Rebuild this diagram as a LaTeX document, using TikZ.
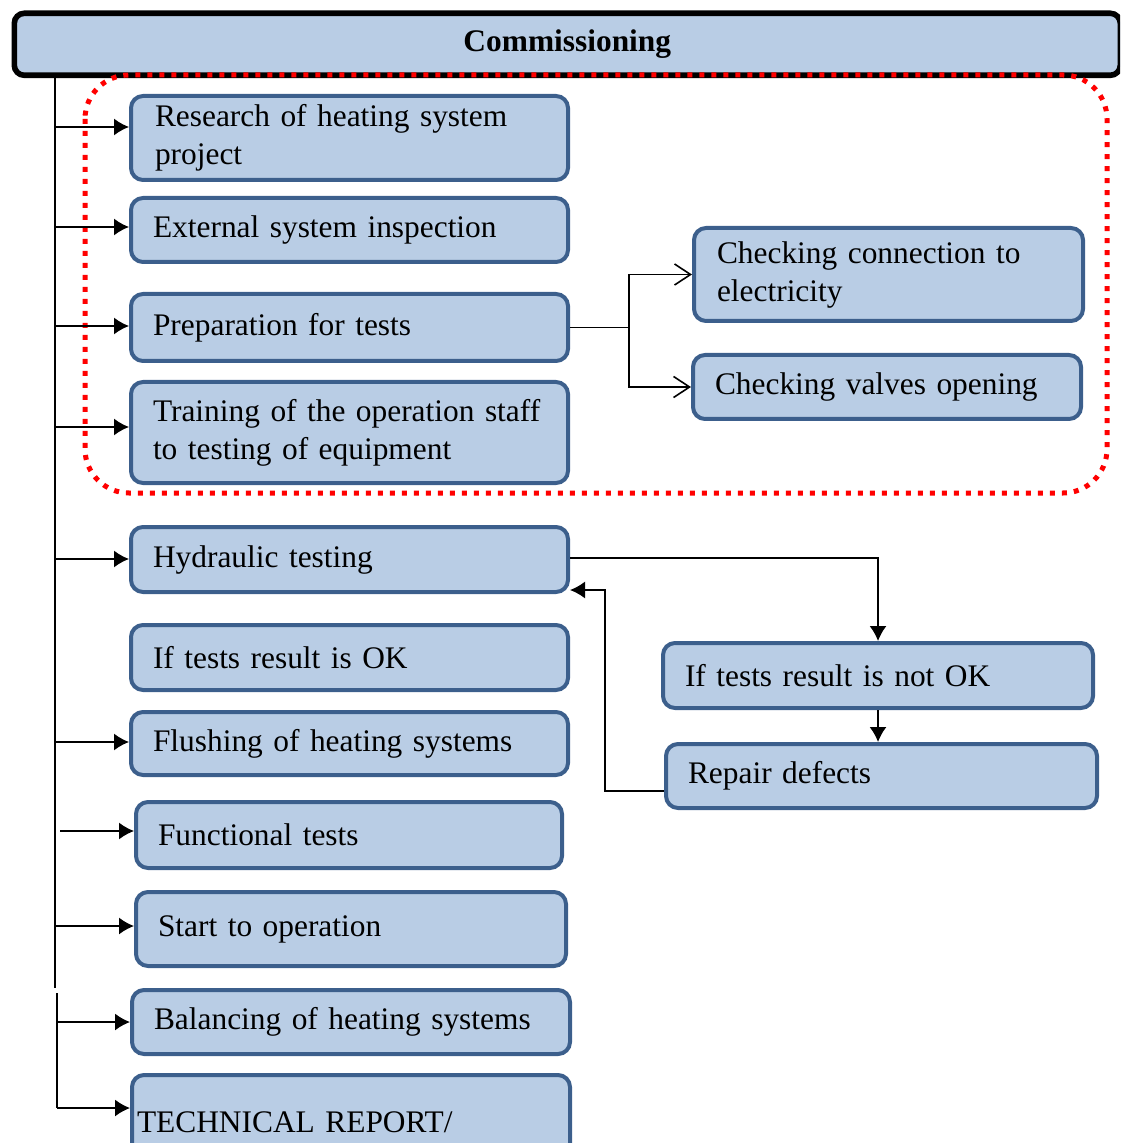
\documentclass[tikz,border=0pt]{standalone}
\usepackage{fontspec}
\setmainfont{Liberation Serif}
\usetikzlibrary{arrows.meta}
\definecolor{boxfill}{HTML}{B9CDE5}
\definecolor{boxline}{HTML}{3C5F8C}

\begin{document}
\begin{tikzpicture}[x=0.5pt,y=-0.5pt,
  box/.style={draw=boxline, fill=boxfill, line width=2pt, rounded corners=6pt, anchor=north west,
    align=left, inner xsep=11pt, inner ysep=0pt, text width=196.5pt, font=\fontsize{15.7}{19}\selectfont},
  arr/.style={-{Latex[length=7.5pt,width=8.5pt]}, line width=0.8pt},
  barb/.style={-{Straight Barb[length=8pt,width=10.5pt]}, line width=0.8pt}]
  \useasboundingbox (0,0) rectangle (1120,1143);
  \clip (0,0) rectangle (1120,1143);

  \node[draw=black, fill=boxfill, line width=2.8pt, rounded corners=5pt, anchor=north west,
    minimum width=553pt, minimum height=31pt, inner sep=0pt,
    font=\fontsize{15.7}{19}\selectfont\bfseries] (comm) at (11.5,10.5) {Commissioning};
  \draw[red, line width=2.5pt, dash pattern=on 2.5pt off 3.5pt, rounded corners=22pt] (85,75) rectangle (1107,493);

  \node[box, minimum height=42pt, inner xsep=12pt, text width=194.5pt] (research) at (129,94) {Research of heating system\\project};
  \node[box, minimum height=32pt] (external) at (129,196) {External system inspection};
  \node[box, minimum height=33.5pt] (prep) at (129,292) {Preparation for tests};
  \node[box, minimum height=50.5pt] (training) at (129,380) {Training of the operation staff\\to testing of equipment};
  \node[box, minimum height=32.5pt] (hydraulic) at (129,525) {Hydraulic testing};
  \node[box, minimum height=32.5pt] (ok) at (129,623) {If tests result is OK};
  \node[box, minimum height=31.5pt] (flushing) at (129,710) {Flushing of heating systems};
  \node[box, minimum height=33pt, text width=191pt] (functional) at (134,800) {Functional tests};
  \node[box, minimum height=37pt, text width=193pt] (start) at (134,890) {Start to operation};
  \node[box, minimum height=32pt, text width=197pt] (balancing) at (130,988) {Balancing of heating systems};
  \node[box, minimum height=47pt, text width=214pt, inner xsep=2.5pt] (report) at (130,1073) {TECHNICAL REPORT/};

  \node[box, minimum height=46.5pt, text width=171.5pt, inner xsep=11.5pt] (electricity) at (692,226) {Checking connection to\\electricity};
  \node[box, minimum height=32pt, text width=172pt, inner xsep=11pt] (valves) at (691,353) {Checking valves opening};
  \node[box, minimum height=32.5pt, text width=193pt] (notok) at (661,641) {If tests result is not OK};
  \node[box, minimum height=32pt, text width=193.5pt] (repair) at (664,742) {Repair defects};

  \coordinate (trunk) at (55,75);
  \coordinate (trunkend) at (55,988);
  \coordinate (tail) at (57,993);
  \coordinate (tailend) at (57,1108);
  \draw[line width=0.8pt] (trunk) -- (trunkend);
  \draw[line width=0.8pt] (tail) -- (tailend);

  \foreach \y/\n in {127/research, 227/external, 326/prep, 427/training, 559/hydraulic, 742/flushing, 926/start}
    \draw[arr] (trunk |- 0,\y) -- (\n.west |- 0,\y);
  \draw[arr] (60,831) -- (functional.west |- 0,831);
  \draw[arr] (tail |- 0,1022) -- (balancing.west |- 0,1022);
  \draw[arr] (tail |- 0,1108) -- (report.west |- 0,1108);

  \draw[line width=0.8pt] (prep.east) -- ++(59,0) coordinate (fork);
  \draw[barb] (fork) |- (electricity.west);
  \draw[barb] (fork) |- (valves.west);

  \draw[arr] (hydraulic.east |- 0,558) -| (notok.north);
  \draw[arr] (notok.south) -- (notok.south |- repair.north);
  \draw[arr] (repair.west |- 0,791) -- (605,791) -- (605,590) -- (hydraulic.east |- 0,590);
\end{tikzpicture}
\end{document}
